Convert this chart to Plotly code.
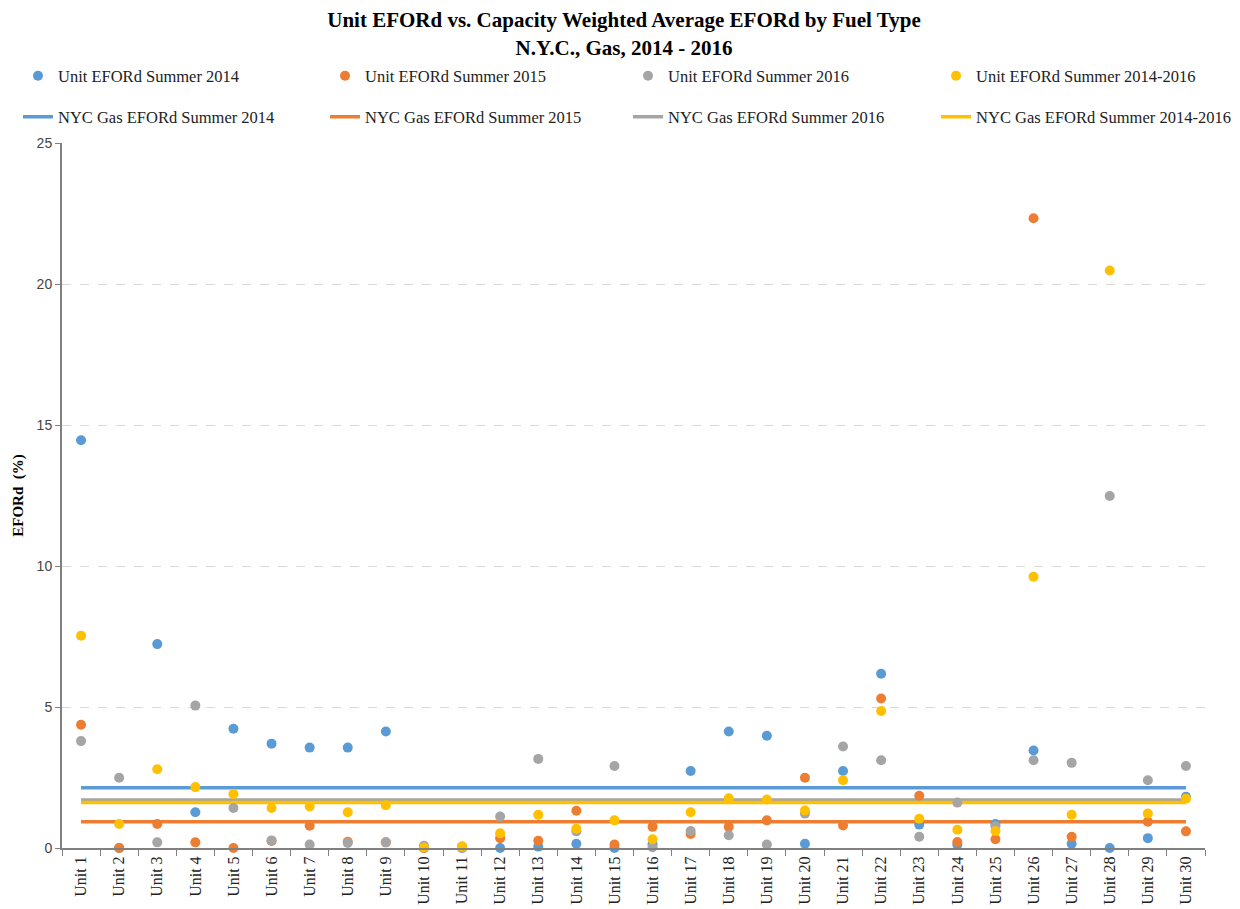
import plotly.graph_objects as go

units = [f"Unit {i}" for i in range(1, 31)]

efor_2014 = [14.46, 0.0, 7.23, 1.27, 4.23, 3.70, 3.56, 3.56, 4.13, 0.0,
             0.0, 0.0, 0.05, 0.15, 0.0, 0.13, 2.73, 4.13, 3.98, 0.15,
             2.73, 6.18, 0.83, 0.12, 0.85, 3.46, 0.15, 0.0, 0.35, 1.82]
efor_2015 = [4.37, 0.0, 0.85, 0.20, 0.0, 0.25, 0.79, 0.22, 0.20, 0.0,
             0.05, 0.35, 0.26, 1.32, 0.12, 0.75, 0.50, 0.75, 0.98, 2.49,
             0.80, 5.30, 1.85, 0.21, 0.31, 22.33, 0.40, None, 0.93, 0.59]
efor_2016 = [3.79, 2.49, 0.20, 5.05, 1.42, 0.27, 0.12, 0.18, 0.20, 0.08,
             0.0, 1.12, 3.16, 0.59, 2.91, 0.03, 0.60, 0.45, 0.12, 1.22,
             3.60, 3.11, 0.40, 1.61, 0.77, 3.11, 3.02, 12.48, 2.40, 2.91]
efor_all = [7.53, 0.85, 2.79, 2.16, 1.91, 1.42, 1.47, 1.27, 1.52, 0.02,
            0.05, 0.52, 1.18, 0.68, 0.98, 0.31, 1.27, 1.76, 1.72, 1.33,
            2.40, 4.86, 1.04, 0.65, 0.60, 9.62, 1.18, 20.48, 1.22, 1.75]

avg_2014 = 2.14
avg_2015 = 0.93
avg_2016 = 1.70
avg_all = 1.61

colors = {"2014": "#5B9BD5", "2015": "#ED7D31", "2016": "#A5A5A5", "all": "#FFC000"}
font_family = "Liberation Serif, Times New Roman, serif"

# legend column positions (paper x) and row positions (paper y)
legend_cols = [-0.0385, 0.2301, 0.4952, 0.7647]
row_points_y = 1.095
row_lines_y = 1.0369

fig = go.Figure()

lines = [
    ("NYC Gas EFORd Summer 2014", avg_2014, colors["2014"]),
    ("NYC Gas EFORd Summer 2015", avg_2015, colors["2015"]),
    ("NYC Gas EFORd Summer 2016", avg_2016, colors["2016"]),
    ("NYC Gas EFORd Summer 2014-2016", avg_all, colors["all"]),
]
points = [
    ("Unit EFORd Summer 2014", efor_2014, colors["2014"]),
    ("Unit EFORd Summer 2015", efor_2015, colors["2015"]),
    ("Unit EFORd Summer 2016", efor_2016, colors["2016"]),
    ("Unit EFORd Summer 2014-2016", efor_all, colors["all"]),
]

legend_layouts = {}
legend_font = dict(family=font_family, size=16.5, color="#222222")

for i, (name, val, col) in enumerate(lines):
    lid = f"legend{5 + i}"
    fig.add_trace(go.Scatter(
        x=units, y=[val] * len(units), mode="lines", name=name,
        line=dict(color=col, width=3.5), legend=lid,
    ))
    legend_layouts[lid] = dict(
        orientation="h", x=legend_cols[i], xanchor="left",
        y=row_lines_y, yanchor="middle", font=legend_font,
        bgcolor="rgba(0,0,0,0)",
    )

for i, (name, vals, col) in enumerate(points):
    lid = "legend" if i == 0 else f"legend{1 + i}"
    fig.add_trace(go.Scatter(
        x=units, y=vals, mode="markers", name=name,
        marker=dict(color=col, size=10, line=dict(width=0)),
        cliponaxis=False, legend=lid,
    ))
    legend_layouts[lid] = dict(
        orientation="h", x=legend_cols[i], xanchor="left",
        y=row_points_y, yanchor="middle", font=legend_font,
        bgcolor="rgba(0,0,0,0)",
    )

fig.update_layout(
    width=1232, height=901,
    paper_bgcolor="white", plot_bgcolor="white",
    margin=dict(l=54, r=35, t=135, b=61, autoexpand=False),
    font=dict(family=font_family, color="#000000", size=14),
    title=dict(
        text="<b>Unit EFORd vs. Capacity Weighted Average EFORd by Fuel Type<br>N.Y.C., Gas, 2014 - 2016</b>",
        x=0.5, xanchor="center", y=0.9785, yanchor="top",
        font=dict(family=font_family, size=21, color="#000000"),
    ),
    showlegend=True,
    **legend_layouts,
)

fig.update_xaxes(
    type="category", range=[-0.5, 29.5],
    showline=True, linecolor="#808080", linewidth=2,
    ticks="outside", tickson="boundaries", ticklen=6, tickcolor="#808080",
    tickangle=-90, showgrid=False,
    tickfont=dict(family=font_family, size=16, color="#222222"),
)
fig.update_yaxes(
    range=[0, 25], dtick=5,
    showline=True, linecolor="#808080", linewidth=2,
    ticks="outside", ticklen=5, tickcolor="#808080",
    showgrid=True, gridcolor="#D9D9D9", griddash="dash", gridwidth=1,
    zeroline=False,
    tickfont=dict(family="Liberation Sans, Arial, sans-serif", size=14, color="#444444"),
    title=dict(text="<b>EFORd  (%)</b>", font=dict(family=font_family, size=15, color="#000000"), standoff=9),
)

fig.write_html("out.html")
